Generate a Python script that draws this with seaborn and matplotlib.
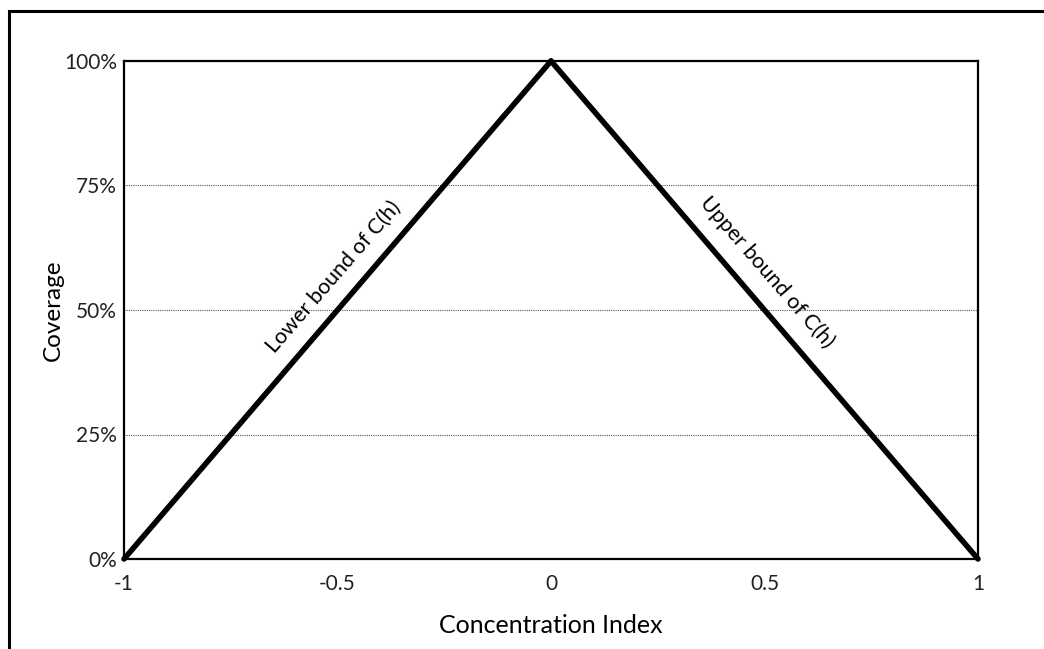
import matplotlib
matplotlib.use("Agg")
import matplotlib.pyplot as plt
from matplotlib.patches import Rectangle
from matplotlib.ticker import FuncFormatter
import seaborn as sns
import pandas as pd

### Data
conc_lower = [-1.0, 0.0]
cov_lower = [0, 100]
conc_upper = [0.0, 1.0]
cov_upper = [100, 0]
x_ticks = [-1, -0.5, 0, 0.5, 1]
x_tick_labels = ["-1", "-0.5", "0", "0.5", "1"]
y_ticks = [0, 25, 50, 75, 100]

sns.set_theme(style="white")
plt.rcParams['font.family'] = ['Lato', 'DejaVu Sans']

df_lower = pd.DataFrame({'conc': conc_lower, 'cov': cov_lower})
df_upper = pd.DataFrame({'conc': conc_upper, 'cov': cov_upper})

fig = plt.figure(figsize=(10.44, 6.49), dpi=100)
ax = fig.add_axes([124/1044, 1-559/649, (978-124)/1044, (559-61)/649])

# dotted gridlines first so the bounds sit on top
for y in y_ticks[1:-1]:
    ax.axhline(y, color='#555555', lw=0.8, ls=(0, (1, 1)), zorder=1)

sns.lineplot(data=df_lower, x='conc', y='cov', ax=ax, color='black', lw=4, clip_on=False, zorder=3)
sns.lineplot(data=df_upper, x='conc', y='cov', ax=ax, color='black', lw=4, clip_on=False, zorder=3)

ax.set_xlim(-1, 1)
ax.set_ylim(0, 100)
ax.set_xticks(x_ticks)
ax.set_xticklabels(x_tick_labels)
ax.set_yticks(y_ticks)
ax.yaxis.set_major_formatter(FuncFormatter(lambda v, p: f"{v:.0f}%"))
ax.tick_params(axis='x', length=0, pad=11, labelsize=15, colors='#222222')
ax.tick_params(axis='y', length=0, pad=5, labelsize=15, colors='#222222')

for s in ax.spines.values():
    s.set_color('black')
    s.set_linewidth(1.6)
    s.set_visible(True)

ax.set_xlabel("Concentration Index", fontsize=18, labelpad=14, color='black')
ax.set_ylabel("Coverage", fontsize=17.5, labelpad=0, color='black')

## Labels along the bounds
ax.text(-0.51, 56.6, "Lower bound of C(h)", rotation=49, ha='center', va='center',
        rotation_mode='anchor', fontsize=15.5, color='black')
ax.text(0.506, 57.6, "Upper bound of C(h)", rotation=-49, ha='center', va='center',
        rotation_mode='anchor', fontsize=15.5, color='black')

# outer frame, cut off at the right and bottom
fig.add_artist(Rectangle((9/1044, -0.1), 1.2, 1.1 - 11/649, transform=fig.transFigure,
                         fill=False, ec='black', lw=2.2, clip_on=False))

fig.savefig("out.png", dpi=100)
